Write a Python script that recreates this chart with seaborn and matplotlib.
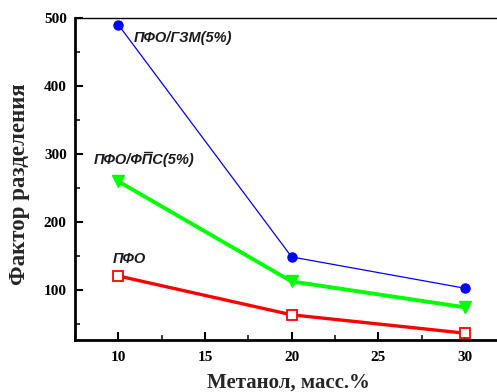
import matplotlib
matplotlib.use("Agg")
import matplotlib.pyplot as plt
from matplotlib.ticker import MultipleLocator
import seaborn as sns
import pandas as pd

methanol = [10, 20, 30]
pfo_gzm = [490, 149, 103]
pfo_fps = [260, 113, 75]
pfo = [121, 64, 37]
series_names = ["ПФО/ГЗМ(5%)", "ПФО/ФПС(5%)", "ПФО"]

sns.set_theme(style="white")

df = pd.DataFrame({
    "x": methanol * 3,
    "y": pfo_gzm + pfo_fps + pfo,
    "s": [series_names[0]] * 3 + [series_names[1]] * 3 + [series_names[2]] * 3,
})

fig = plt.figure(figsize=(4.97, 3.92), dpi=100)
ax = fig.add_axes([0.151, 0.1327, 0.849, 0.8214])

styles = {
    series_names[0]: dict(color="#0000ff", lw=0.9, marker="o", ms=6.5, mfc="#0000ff", mec="#0000ff"),
    series_names[1]: dict(color="#00ff00", lw=2.8, marker="v", ms=9, mfc="#00ff00", mec="#00ff00"),
    series_names[2]: dict(color="#ff0000", lw=2.4, marker="s", ms=7, mfc="white", mec="#ff0000", mew=1.3),
}
for name in series_names:
    st = styles[name]
    sns.lineplot(data=df[df["s"] == name], x="x", y="y", ax=ax, color=st["color"],
                 linewidth=st["lw"], marker=st["marker"], markersize=st["ms"],
                 markerfacecolor=st["mfc"], markeredgecolor=st["mec"],
                 markeredgewidth=st.get("mew", 1), legend=False)

ax.set_xlim(7.5, 31.85)
ax.set_ylim(27, 500)
ax.xaxis.set_major_locator(MultipleLocator(5))
ax.xaxis.set_minor_locator(MultipleLocator(2.5))
ax.yaxis.set_major_locator(MultipleLocator(100))
ax.yaxis.set_minor_locator(MultipleLocator(50))
ax.set_xticks([10, 15, 20, 25, 30])
ax.set_yticks([100, 200, 300, 400, 500])

ax.tick_params(axis="both", which="major", direction="in", length=6, width=1.5,
               labelsize=11, pad=6, colors="black")
ax.tick_params(axis="x", which="major", pad=8)
ax.tick_params(axis="both", which="minor", direction="in", length=3.5, width=1.3)
ax.tick_params(axis="x", which="both", bottom=True)
ax.tick_params(axis="y", which="both", left=True)
for lab in ax.get_xticklabels() + ax.get_yticklabels():
    lab.set_fontfamily("Liberation Serif")
    lab.set_fontweight("bold")

for side in ["left", "bottom"]:
    ax.spines[side].set_linewidth(2)
    ax.spines[side].set_color("black")
ax.spines["top"].set_linewidth(1)
ax.spines["top"].set_color("black")
ax.spines["right"].set_visible(False)

ax.set_xlabel("")
ax.set_ylabel("")
fig.text(0.58, 0.023, "Метанол, масс.%", fontfamily="Liberation Serif",
         fontweight="bold", fontsize=15, ha="center", va="center")
fig.text(0.04, 0.53, "Фактор разделения", fontfamily="Liberation Serif",
         fontweight="bold", fontsize=16.5, ha="center", va="center", rotation=90)

lab_kw = dict(fontfamily="Liberation Sans", fontweight="bold", fontstyle="italic",
              fontsize=10.5, color="#1a1a22")
lab_pos = [(10.9, 471), (8.55, 292), (9.7, 146)]
for name, (lx, ly) in zip(series_names, lab_pos):
    ax.text(lx, ly, name, va="center", ha="left", **lab_kw)

# bar over the "П" in the "ФПС" part of the middle label
renderer = fig.canvas.get_renderer()
mx, my = lab_pos[1]
full = ax.text(mx, my, series_names[1], va="center", ha="left", alpha=0, **lab_kw)
head = ax.text(mx, my, "ПФО/Ф", va="center", ha="left", alpha=0, **lab_kw)
letter = ax.text(mx, my, "П", va="center", ha="left", alpha=0, **lab_kw)
bb_head = head.get_window_extent(renderer)
bb_letter = letter.get_window_extent(renderer)
bb_full = full.get_window_extent(renderer)
x0 = bb_head.x1 + 2.0
x1 = bb_head.x1 + bb_letter.width - 0.5
ytop = bb_full.y1 + 1.0
W = fig.dpi * fig.get_figwidth()
H = fig.dpi * fig.get_figheight()
fig.add_artist(plt.Line2D([x0 / W, x1 / W], [ytop / H] * 2, color="#1a1a22", lw=1.0))
for t in (full, head, letter):
    t.remove()

fig.savefig("out.png", dpi=100)
